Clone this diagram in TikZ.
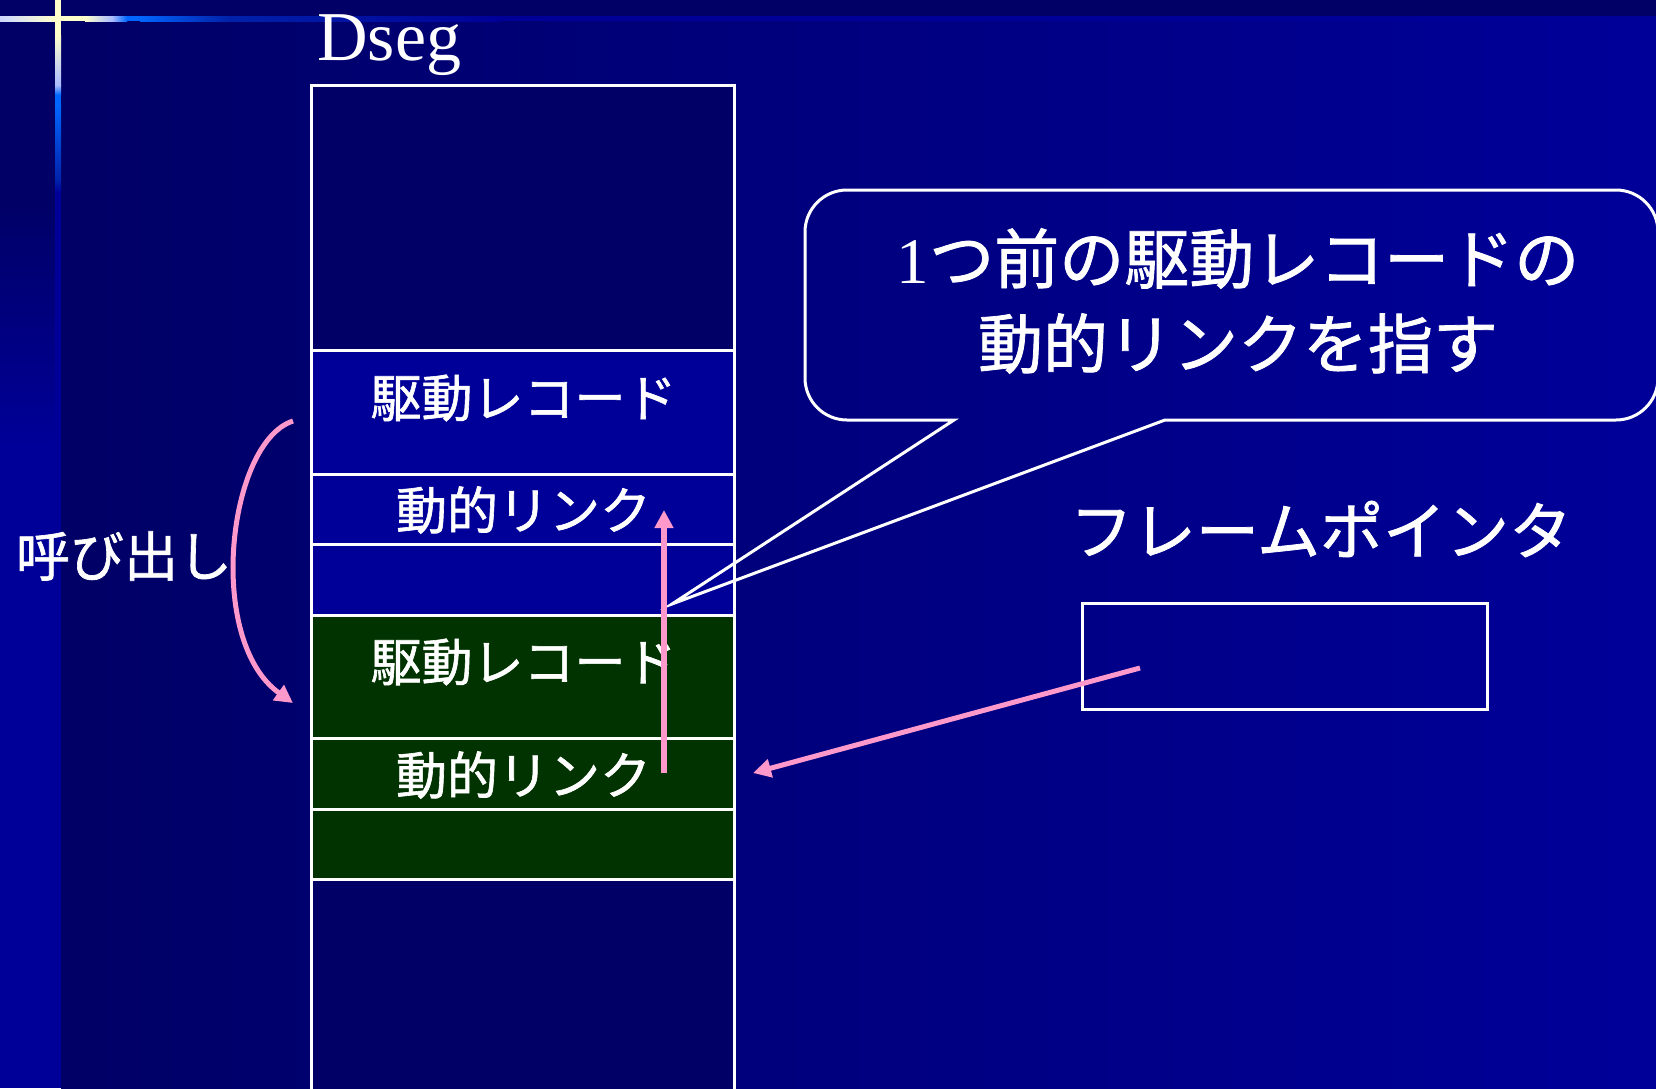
\documentclass[tikz,border=0pt]{standalone}
\usepackage{fontspec}
\setmainfont{Liberation Serif}
\newfontfamily\jp[FakeBold=1.2]{Noto Sans CJK JP}
\newfontfamily\tms{Liberation Serif}
\usetikzlibrary{arrows.meta}
\definecolor{navy}{HTML}{000066}
\definecolor{bgblue}{HTML}{000099}
\definecolor{rowblue}{HTML}{000099}
\definecolor{rowgreen}{HTML}{003300}
\definecolor{pinkc}{HTML}{FF99CC}
\definecolor{crossyel}{HTML}{FFFFCC}
\definecolor{crosspale}{HTML}{AABBFF}
\definecolor{crossblue}{HTML}{0066FF}
\definecolor{crossdeep}{HTML}{0022AA}
\begin{document}
\begin{tikzpicture}[x=0.5pt,y=-0.5pt,
  cellbox/.style={draw=white, line width=1.5pt, minimum width=211.5pt, inner sep=0, outer sep=0},
  jlab/.style={text=white, inner sep=0, font=\jp\fontsize{25.5}{30}\selectfont},
  pinkarrow/.style={draw=pinkc, line width=3pt, -{Triangle[width=9pt,length=9pt]}},
  wline/.style={draw=white, line width=1.5pt}]
\useasboundingbox (0,0) rectangle (1656,1088);
\clip (0,0) rectangle (1656,1088);
% background
\fill[navy] (0,0) rectangle (1656,1088);
\shade[left color=navy, right color=bgblue] (61,21) rectangle (1656,1088);
\shade[top color=navy, bottom color=bgblue] (0,200) rectangle (55,450);
\fill[bgblue] (0,450) rectangle (55,1088);
% horizontal bar
\fill[bgblue] (61,16) rectangle (1656,21);
\shade[left color=crosspale!60!white, right color=crossyel] (0,16) rectangle (55,21);
\fill[crossyel] (61,16) rectangle (85,21);
\shade[left color=crossyel, right color=crosspale] (85,16) rectangle (112,21);
\shade[left color=crosspale, right color=crossblue] (112,16) rectangle (127,21);
\fill[crossblue] (127,16) rectangle (140,21);
\shade[left color=crossblue, right color=crossdeep] (140,16) rectangle (228,21);
\shade[left color=crossdeep, right color=bgblue] (228,16) rectangle (500,21);
% vertical bar
\fill[crossyel] (55,0) rectangle (61,35);
\shade[top color=crossyel, bottom color=crosspale] (55,35) rectangle (61,85);
\shade[top color=crosspale, bottom color=crossblue] (55,85) rectangle (61,95);
\fill[crossblue] (55,95) rectangle (61,105);
\shade[top color=crossblue, bottom color=crossdeep] (55,105) rectangle (61,180);
\shade[top color=crossdeep, bottom color=bgblue] (55,180) rectangle (61,192);
\fill[bgblue] (55,192) rectangle (61,1088);

% title
\node[text=white, inner sep=0, anchor=base west, font=\tms\fontsize{35}{40}\selectfont] (dseg) at (317,60) {Dseg};

% stack
\node[cellbox, fill=navy, minimum height=132.5pt] (r0) at (522.5,217.5) {};
\node[cellbox, fill=rowblue, minimum height=62pt] (r1) at (522.5,412) {};
\node[cellbox, fill=rowblue, minimum height=35pt] (r2) at (522.5,509) {};
\node[cellbox, fill=rowblue, minimum height=35.5pt] (r3) at (522.5,579.5) {};
\node[cellbox, fill=rowgreen, minimum height=61.5pt] (r4) at (522.5,676.5) {};
\node[cellbox, fill=rowgreen, minimum height=35.5pt] (r5) at (522.5,773.5) {};
\node[cellbox, fill=rowgreen, minimum height=35pt] (r6) at (522.5,844) {};
\node[cellbox, fill=navy, minimum height=110.5pt] (r7) at (522.5,989.5) {};

\node[jlab] (rec1) at (523.5,398) {駆動レコード};
\node[jlab] (link1) at (523.5,510) {動的リンク};
\node[jlab] (rec2) at (523.5,662) {駆動レコード};
\node[jlab] (link2) at (523.5,775) {動的リンク};

% call label
\node[jlab, font=\jp\fontsize{27}{30}\selectfont] (call) at (124,556) {呼び出し};

% callout
\draw[wline] (954,420) -- (672,604) -- (1165,420) -- (1616,420)
  arc[start angle=-90, end angle=0, radius=21pt] -- (1658,232)
  arc[start angle=0, end angle=90, radius=21pt] -- (847,190)
  arc[start angle=90, end angle=180, radius=21pt] -- (805,378)
  arc[start angle=180, end angle=270, radius=21pt] -- cycle;
\node[text=white, inner sep=0, align=center, font=\jp\fontsize{32.5}{42.5}\selectfont] (note) at (1238,301)
  {{\tms 1}つ前の駆動レコードの\\動的リンクを指す};

% frame pointer
\node[jlab, font=\jp\fontsize{31.5}{34}\selectfont] (fplabel) at (1321,529) {フレームポインタ};
\node[draw=white, line width=1.5pt, minimum width=202.5pt, minimum height=53pt, inner sep=0] (fp) at (1284.5,656) {};

% connectors
\coordinate (linkfrom) at (664,773);
\coordinate (linkto) at (664,510);
\draw[pinkarrow] (linkfrom) -- (linkto);

\coordinate (fpstart) at (1140,668);
\coordinate (fptarget) at (753,773);
\draw[pinkarrow, line width=2.5pt] (fpstart) -- (fptarget);

\coordinate (callfrom) at (293,421);
\coordinate (callto) at (293,703);
\draw[pinkarrow, line width=2.5pt] (callfrom) .. controls (228,442) and (205,640) .. (callto);
\end{tikzpicture}
\end{document}
